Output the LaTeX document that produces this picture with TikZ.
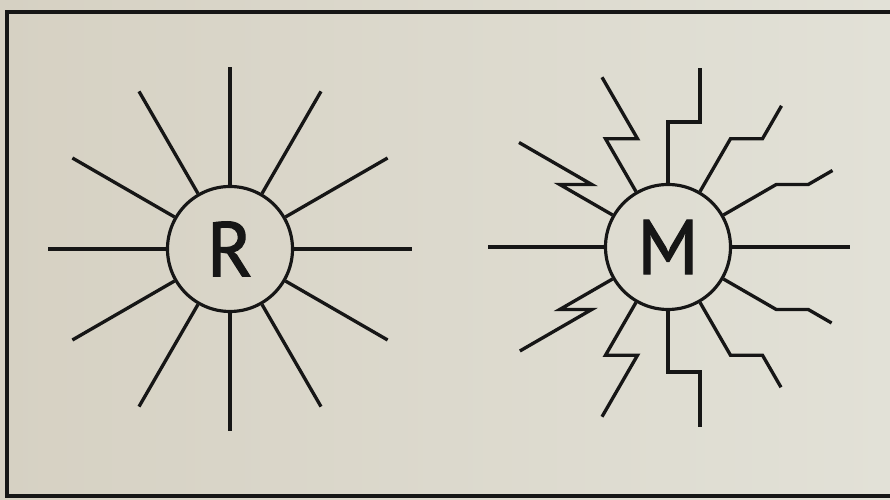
\documentclass[tikz,border=0pt]{standalone}
\usepackage{fontspec}
\setmainfont{PT Sans}
\newfontfamily\hubfont[FakeBold=1.6]{PT Sans}
\usetikzlibrary{calc}
\definecolor{paperL}{RGB}{214,209,195}
\definecolor{paperR}{RGB}{226,225,215}
\definecolor{ink}{RGB}{22,22,22}

\begin{document}
\begin{tikzpicture}[
    x=0.3mm, y=0.3mm,
    ray/.style={draw=ink, line width=1mm, line join=miter},
    hub/.style={circle, draw=ink, line width=0.95mm, minimum size=37.5mm, inner sep=0pt, text=ink, font=\hubfont\fontsize{66}{66}\selectfont},
    frame/.style={draw=ink, line width=1.1mm}
]
\shade[left color=paperL, right color=paperR] (0,0) rectangle (890,500);
\useasboundingbox (0,0) rectangle (890,500);

\node[hub] (R) at (230,251) {R};
\node[hub] (M) at (668,253) {M};

% straight rays round R
\foreach \a in {0,30,...,330}
    \draw[ray] (R.\a) -- ($(R.center)+(\a:182)$);

% broken rays round M
\foreach \a/\len in {30/28,60/38,90/54,120/71,150/84,210/83,240/71,270/55,300/37,330/27}
    \draw[ray] (M.\a) -- ($(M.center)+(\a:125)$) -- ++(32,0) -- ++(\a:\len);
\draw[ray] (M.0) -- ($(M.center)+(0:182)$);
\draw[ray] (M.180) -- ($(M.center)+(180:180)$);

\draw[frame] (890,488) -- (7,488) -- (7,4) -- (890,4);
\end{tikzpicture}
\end{document}
